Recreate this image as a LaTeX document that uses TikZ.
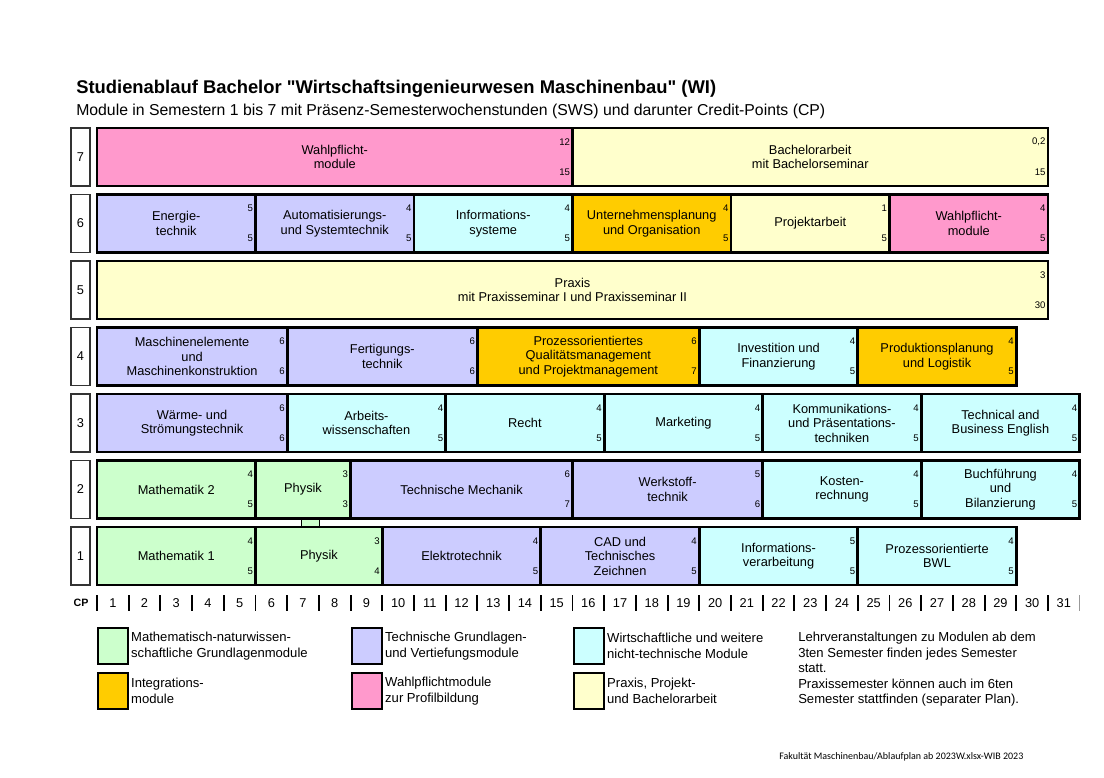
\documentclass[tikz,border=0pt]{standalone}
\usepackage{fontspec}
\setmainfont{Liberation Sans}
\newfontfamily\footfont{Carlito}
\usepackage{tikz}
\usetikzlibrary{positioning}
\definecolor{mathgreen}{HTML}{CCFFCC}
\definecolor{techblue}{HTML}{CCCCFF}
\definecolor{wicyan}{HTML}{CCFFFF}
\definecolor{intgold}{HTML}{FFCC00}
\definecolor{wpfpink}{HTML}{FF99CC}
\definecolor{praxyellow}{HTML}{FFFFCC}
\definecolor{bk80}{HTML}{333333}
\newcommand{\straightquote}{\XeTeXglyph\XeTeXcharglyph"22\relax}
\tikzset{
  modbox/.style={
    rectangle, draw=black, fill=#1, line width=2.2pt,
    minimum height=43.5pt, outer sep=0pt, inner sep=1pt,
    font=\fontsize{9.6}{10.9}\selectfont, align=center
  },
  modbox/.default=techblue,
  cp/.style={minimum width=#1*23.775pt},
  numlbl/.style={
    anchor=east, inner sep=0.4pt,
    font=\fontsize{7.2}{8}\selectfont
  },
  sembox/.style={
    rectangle, draw=bk80, fill=white, line width=0.9pt,
    minimum width=14.25pt, minimum height=43.5pt,
    outer sep=0pt, font=\fontsize{9.6}{11}\selectfont
  },
  linkbox/.style={
    rectangle, draw=black, fill=mathgreen, line width=0.6pt,
    minimum width=13.5pt, minimum height=7.5pt, inner sep=0pt
  },
  cpbar/.style={line width=1.4pt, draw=#1},
  cpbar/.default=black,
  cpnum/.style={font=\fontsize{9.6}{11}\selectfont, inner sep=0pt},
  legbox/.style={
    rectangle, draw=black, fill=#1, line width=2.2pt,
    minimum width=22.5pt, minimum height=27pt, outer sep=0pt
  },
  legtext/.style={
    font=\fontsize{9.8}{12}\selectfont, align=left, inner sep=0pt
  },
}
\newcommand{\swscp}[3]{%
  \node[numlbl] (#1-sws) at ([xshift=-1.3pt,yshift=-10.5pt]#1.north east) {#2};
  \node[numlbl] (#1-cp) at ([xshift=-1.3pt,yshift=10.5pt]#1.south east) {#3};
}

\begin{document}
\begin{tikzpicture}[x=0.75pt, y=-0.75pt, node distance=0pt]
\useasboundingbox[fill=white] (0,0) rectangle (1104,778);

% Title
\node[anchor=base west, inner sep=0pt, font=\fontsize{13.8}{16}\selectfont\bfseries]
  (title) at (76,93) {Studienablauf Bachelor \straightquote Wirtschaftsingenieurwesen Maschinenbau\straightquote{} (WI)};
\node[anchor=base west, inner sep=0pt, font=\fontsize{11.85}{13}\selectfont]
  (subtitle) at (76,115) {Module in Semestern 1 bis 7 mit Präsenz-Semesterwochenstunden (SWS) und darunter Credit-Points (CP)};

% Semester numbers
\foreach \r/\y in {7/128,6/194.5,5/261,4/327.5,3/394,2/460.5,1/527}{
  \node[sembox, anchor=north west] (sem\r) at (71,\y) {\r};
  \coordinate (row\r) at (97,\y);
}

% Physik link between semester 1 and 2
\node[linkbox] (phylink) at (310,523) {};

% Semester 7
\node[modbox=wpfpink, cp=15, anchor=north west] (wpf7) at (row7) {Wahlpflicht-\\module};
\node[modbox=praxyellow, cp=15, right=of wpf7] (bach) {Bachelorarbeit\\mit Bachelorseminar};
\swscp{wpf7}{12}{15}
\swscp{bach}{0,2}{15}

% Semester 6
\node[modbox=techblue, cp=5, anchor=north west] (ener) at (row6) {Energie-\\technik};
\node[modbox=techblue, cp=5, right=of ener] (auto) {Automatisierungs-\\und Systemtechnik};
\node[modbox=wicyan, cp=5, right=of auto] (infsys) {Informations-\\systeme};
\node[modbox=intgold, cp=5, right=of infsys] (uplan) {Unternehmensplanung\\und Organisation};
\node[modbox=praxyellow, cp=5, right=of uplan] (proj) {Projektarbeit};
\node[modbox=wpfpink, cp=5, right=of proj] (wpf6) {Wahlpflicht-\\module};
\swscp{ener}{5}{5}
\swscp{auto}{4}{5}
\swscp{infsys}{4}{5}
\swscp{uplan}{4}{5}
\swscp{proj}{1}{5}
\swscp{wpf6}{4}{5}

% Semester 5
\node[modbox=praxyellow, cp=30, anchor=north west] (praxis) at (row5) {Praxis\\mit Praxisseminar I und Praxisseminar II};
\swscp{praxis}{3}{30}

% Semester 4
\node[modbox=techblue, cp=6, anchor=north west] (mel) at (row4) {Maschinenelemente\\und\\Maschinenkonstruktion};
\node[modbox=techblue, cp=6, right=of mel] (fert) {Fertigungs-\\technik};
\node[modbox=intgold, cp=7, right=of fert] (qm) {Prozessorientiertes\\Qualitätsmanagement\\und Projektmanagement};
\node[modbox=wicyan, cp=5, right=of qm] (invest) {Investition und\\Finanzierung};
\node[modbox=intgold, cp=5, right=of invest] (prodpl) {Produktionsplanung\\und Logistik};
\swscp{mel}{6}{6}
\swscp{fert}{6}{6}
\swscp{qm}{6}{7}
\swscp{invest}{4}{5}
\swscp{prodpl}{4}{5}

% Semester 3
\node[modbox=techblue, cp=6, anchor=north west] (waerme) at (row3) {Wärme- und\\Strömungstechnik};
\node[modbox=wicyan, cp=5, right=of waerme] (arbw) {Arbeits-\\wissenschaften};
\node[modbox=wicyan, cp=5, right=of arbw] (recht) {Recht};
\node[modbox=wicyan, cp=5, right=of recht] (mark) {Marketing};
\node[modbox=wicyan, cp=5, right=of mark] (komm) {Kommunikations-\\und Präsentations-\\techniken};
\node[modbox=wicyan, cp=5, right=of komm] (tbe) {Technical and\\Business English};
\swscp{waerme}{6}{6}
\swscp{arbw}{4}{5}
\swscp{recht}{4}{5}
\swscp{mark}{4}{5}
\swscp{komm}{4}{5}
\swscp{tbe}{4}{5}

% Semester 2
\node[modbox=mathgreen, cp=5, anchor=north west] (ma2) at (row2) {Mathematik 2};
\node[modbox=mathgreen, cp=3, right=of ma2] (phy2) {Physik};
\node[modbox=techblue, cp=7, right=of phy2] (tm) {Technische Mechanik};
\node[modbox=techblue, cp=6, right=of tm] (wst) {Werkstoff-\\technik};
\node[modbox=wicyan, cp=5, right=of wst] (kost) {Kosten-\\rechnung};
\node[modbox=wicyan, cp=5, right=of kost] (buch) {Buchführung\\und\\Bilanzierung};
\swscp{ma2}{4}{5}
\swscp{phy2}{3}{3}
\swscp{tm}{6}{7}
\swscp{wst}{5}{6}
\swscp{kost}{4}{5}
\swscp{buch}{4}{5}

% Semester 1
\node[modbox=mathgreen, cp=5, anchor=north west] (ma1) at (row1) {Mathematik 1};
\node[modbox=mathgreen, cp=4, right=of ma1] (phy1) {Physik};
\node[modbox=techblue, cp=5, right=of phy1] (et) {Elektrotechnik};
\node[modbox=techblue, cp=5, right=of et] (cad) {CAD und\\Technisches\\Zeichnen};
\node[modbox=wicyan, cp=5, right=of cad] (infv) {Informations-\\verarbeitung};
\node[modbox=wicyan, cp=5, right=of infv] (bwl) {Prozessorientierte\\BWL};
\swscp{ma1}{4}{5}
\swscp{phy1}{3}{4}
\swscp{et}{4}{5}
\swscp{cad}{4}{5}
\swscp{infv}{5}{5}
\swscp{bwl}{4}{5}

% CP scale
\node[font=\fontsize{8}{10}\selectfont\bfseries, inner sep=0pt] (cplbl) at (81,603) {CP};
\foreach \i in {0,...,30}
  \draw[cpbar] ({97+31.7*\i},595) -- ({97+31.7*\i},611);
\draw[cpbar=bk80!50, line width=1pt] ({97+31.7*31},595) -- ({97+31.7*31},611);
\foreach \i in {1,...,31}
  \node[cpnum] (cp\i) at ({97+31.7*(\i-0.5)},603) {\i};

% Legend
\node[legbox=mathgreen, anchor=north west] (lg1) at (98,628) {};
\node[legtext, right=2.2pt of lg1] (lt1) {Mathematisch-naturwissen-\\schaftliche Grundlagenmodule};
\node[legbox=intgold, anchor=north west] (lg2) at (98,673) {};
\node[legtext, right=2.2pt of lg2] (lt2) {Integrations-\\module};
\node[legbox=techblue, anchor=north west] (lg3) at (352,628) {};
\node[legtext, right=2.2pt of lg3] (lt3) {Technische Grundlagen-\\und Vertiefungsmodule};
\node[legbox=wpfpink, anchor=north west] (lg4) at (352,673) {};
\node[legtext, right=2.2pt of lg4] (lt4) {Wahlpflichtmodule\\zur Profilbildung};
\node[legbox=wicyan, anchor=north west] (lg5) at (574,628) {};
\node[legtext, right=2.2pt of lg5] (lt5) {Wirtschaftliche und weitere\\nicht-technische Module};
\node[legbox=praxyellow, anchor=north west] (lg6) at (574,673) {};
\node[legtext, right=2.2pt of lg6] (lt6) {Praxis, Projekt-\\und Bachelorarbeit};

% Notes
\node[anchor=north west, inner sep=0pt, align=left, font=\fontsize{9.8}{11.6}\selectfont]
  (notes) at (798,632) {Lehrveranstaltungen zu Modulen ab dem\\3ten Semester finden jedes Semester\\statt.\\Praxissemester können auch im 6ten\\Semester stattfinden (separater Plan).};

% Footer
\node[anchor=base west, inner sep=0pt, font=\footfont\fontsize{7.5}{9}\selectfont]
  (footer) at (779,759) {Fakultät Maschinenbau/Ablaufplan ab 2023W.xlsx-WIB 2023};

\end{tikzpicture}
\end{document}
